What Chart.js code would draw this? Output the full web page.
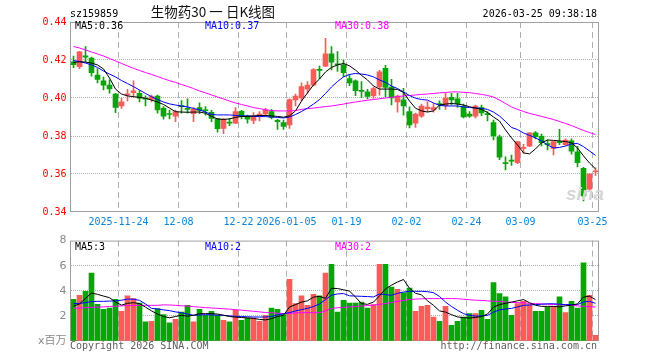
<!DOCTYPE html>
<html><head><meta charset="utf-8">
<script src="https://cdn.jsdelivr.net/npm/chart.js@4/dist/chart.umd.min.js"></script>
<style>
html,body{margin:0;padding:0;background:#fff;}
#wrap{position:relative;width:660px;height:360px;overflow:hidden;}
canvas{position:absolute;left:0;}
.t{position:absolute;white-space:pre;font-family:"DejaVu Sans Mono",monospace;font-size:10px;line-height:10px;}
</style></head><body>
<div id="wrap">
<canvas id="k" width="660" height="230" style="top:0;width:660px;height:230px"></canvas>
<canvas id="v" width="660" height="130" style="top:230px;width:660px;height:130px"></canvas>
<div class="t" style="left:70px;top:8.5px;color:#000">sz159859</div>
<div style="position:absolute;left:113px;width:200px;text-align:center;top:5px;font:13.5px/13.5px 'Noto Sans CJK SC',sans-serif;color:#111;white-space:pre">生物药30 一 日K线图</div>
<div class="t" style="right:63px;top:8.5px;color:#000">2026-03-25 09:38:18</div>
<div class="t" style="left:75px;top:20.5px;color:#000">MA5:0.36</div>
<div class="t" style="left:205px;top:20.5px;color:#0000ff">MA10:0.37</div>
<div class="t" style="left:335px;top:20.5px;color:#ff00ff">MA30:0.38</div>
<div class="t" style="left:75px;top:241.5px;color:#000">MA5:3</div>
<div class="t" style="left:205px;top:241.5px;color:#0000ff">MA10:2</div>
<div class="t" style="left:335px;top:241.5px;color:#ff00ff">MA30:2</div>
<div class="t" style="left:70px;top:340.5px;color:#606060">Copyright 2026 SINA.COM</div>
<div class="t" style="right:63px;top:340.5px;color:#606060">http://finance.sina.com.cn</div>
<div style="position:absolute;left:566px;top:184px;font:italic bold 19px/19px 'Liberation Sans',sans-serif;color:#d6d6d6;">sina</div>
</div>
<script>
const dates = ['2025-11-12','2025-11-13','2025-11-14','2025-11-17','2025-11-18','2025-11-19','2025-11-20','2025-11-21','2025-11-24','2025-11-25','2025-11-26','2025-11-27','2025-11-28','2025-12-01','2025-12-02','2025-12-03','2025-12-04','2025-12-05','2025-12-08','2025-12-09','2025-12-10','2025-12-11','2025-12-12','2025-12-15','2025-12-16','2025-12-17','2025-12-18','2025-12-19','2025-12-22','2025-12-23','2025-12-24','2025-12-25','2025-12-26','2025-12-29','2025-12-30','2025-12-31','2026-01-05','2026-01-06','2026-01-07','2026-01-08','2026-01-09','2026-01-12','2026-01-13','2026-01-14','2026-01-15','2026-01-16','2026-01-19','2026-01-20','2026-01-21','2026-01-22','2026-01-23','2026-01-26','2026-01-27','2026-01-28','2026-01-29','2026-01-30','2026-02-02','2026-02-03','2026-02-04','2026-02-05','2026-02-06','2026-02-09','2026-02-10','2026-02-11','2026-02-12','2026-02-13','2026-02-24','2026-02-25','2026-02-26','2026-02-27','2026-03-02','2026-03-03','2026-03-04','2026-03-05','2026-03-06','2026-03-09','2026-03-10','2026-03-11','2026-03-12','2026-03-13','2026-03-16','2026-03-17','2026-03-18','2026-03-19','2026-03-20','2026-03-23','2026-03-24','2026-03-25'];

const tickDates  = ['2025-11-24','2025-12-08','2025-12-22','2026-01-05','2026-01-19','2026-02-02','2026-02-24','2026-03-09','2026-03-25'];
const tickLabels = ['2025-11-24','12-08','12-22','2026-01-05','01-19','02-02','02-24','03-09','03-25'];

const opens = [.419,.4165,.4222,.421,.412,.409,.4068,.402,.3958,.4016, .4028,.4025,.400,.3993,.401,.3946,.3916,.3905,.3958,.3945, .3918,.395,.3937,.3925,.389,.384,.387,.3868,.393,.3905, .3882,.3902,.3916,.3928,.3882,.387,.3858,.399,.400,.4046, .4068,.4148,.4168,.4232,.418,.4175,.4102,.409,.4038,.4033, .4012,.4058,.4156,.4058,.398,.399,.3928,.3867,.3905,.3944, .3937,.397,.396,.4004,.3996,.3955,.3916,.3905,.395,.3918, .387,.3795,.3658,.3672,.366,.3735,.3747,.3817,.3798,.3758, .3735,.377,.3755,.3775,.3717,.363,.352,.3612];
const highs = [.422,.4245,.427,.4215,.4155,.411,.4095,.4025,.400,.4046, .409,.4039,.4012,.4015,.4015,.3955,.3937,.3937,.3986,.3995, .395,.3975,.3955,.3935,.3893,.3893,.3893,.395,.3935,.391, .3923,.3928,.3945,.394,.3888,.3884,.3995,.4021,.408,.4086, .4155,.4168,.4314,.427,.4244,.42,.4125,.4095,.4086,.4045, .4058,.4145,.4172,.4098,.4015,.4051,.3954,.392,.3968,.3981, .397,.3985,.4025,.4025,.4025,.3968,.3928,.3963,.3963,.3928, .3884,.3805,.369,.37,.3772,.3756,.3818,.3823,.381,.378, .3772,.3835,.3785,.3785,.3745,.3635,.3602,.3632];
const lows = [.416,.4155,.419,.4115,.408,.4042,.4025,.3923,.3945,.3985, .4005,.398,.3958,.398,.392,.3888,.389,.3875,.392,.392, .3875,.3917,.391,.3875,.382,.3812,.3855,.3865,.389,.3867, .3865,.388,.3905,.389,.3835,.3835,.384,.3958,.3986,.4025, .4063,.41,.4165,.4148,.414,.4112,.4065,.4012,.4002,.3995, .3998,.4015,.4007,.3963,.3925,.391,.3842,.3845,.3898,.3928, .3925,.394,.394,.3963,.395,.3895,.3898,.3895,.3907,.388, .3779,.3675,.3622,.3645,.3655,.371,.3744,.3785,.3748,.3727, .37,.3755,.375,.3705,.3637,.3458,.351,.3592];
const closes = [.4175,.4243,.4215,.4133,.4098,.4068,.4048,.395,.398,.4022, .4038,.3999,.3994,.4007,.3937,.3905,.3913,.3928,.3955,.394, .394,.3935,.3933,.3893,.3838,.3889,.3868,.3928,.3903,.3888, .3905,.3916,.3937,.3898,.3875,.385,.3992,.401,.406,.4068, .415,.4145,.4232,.4188,.4175,.4133,.408,.4038,.4035,.4008, .405,.4138,.4056,.400,.401,.3958,.3858,.3916,.3958,.3952, .395,.3965,.400,.399,.397,.39,.3904,.3958,.3922,.3912, .38,.3688,.3655,.3668,.377,.374,.3817,.3797,.3765,.3755, .377,.3765,.3779,.372,.366,.3485,.36,.3615];
const volumes = [3.32,3.64,3.96,5.42,2.92,2.53,2.63,3.32,2.37,3.59, 3.38,3.03,1.52,1.57,2.58,2.1,1.44,1.73,2.31,2.84, 1.52,2.53,2.05,2.37,2.05,1.65,1.52,2.45,1.65,1.83, 1.83,1.57,2.05,2.63,2.53,2.1,4.92,2.98,3.59,2.84, 3.72,3.59,5.42,6.11,2.31,3.24,3.03,3.03,3.11,2.63, 2.9,6.11,6.11,4.3,4.12,3.83,4.22,2.37,2.76,2.84, 1.91,1.57,2.76,1.25,1.57,1.91,2.18,2.18,2.45,1.73, 4.65,3.78,3.51,2.05,2.98,3.16,2.9,2.37,2.37,2.71, 2.76,3.51,2.26,3.16,2.63,6.22,3.64,0.45];

const ma5 = [.4187,.4191,.4189,.4184,.4174,.4153,.4105,.4047,.4021,.4011, .4007,.4003,.3999,.3989,.3979,.3966,.3947,.3928,.3926,.3925, .3926,.3926,.392,.3903,.389,.3887,.389,.3898,.3903,.3903, .3906,.3908,.3908,.3906,.3903,.3899,.3906,.3932,.3984,.4027, .4069,.41,.4137,.4161,.4174,.4182,.4169,.4147,.4119,.4095, .4063,.4047,.4047,.4047,.4045,.4029,.3984,.3946,.3932,.3926, .3932,.3963,.3968,.3971,.3968,.3963,.3954,.3947,.394,.3924, .39,.3879,.3832,.379,.3753,.3711,.3706,.3732,.3764,.3779, .3777,.3774,.3771,.3764,.3737,.3695,.3658,.3627];
const ma10 = [.4197,.4192,.4184,.4174,.4161,.4142,.4126,.4111,.4092,.4076, .406,.4042,.4024,.4007,.3992,.3979,.3969,.3963,.3958,.3953, .3945,.3937,.3926,.3913,.3911,.3911,.3911,.3908,.3906,.3906, .3903,.3902,.3902,.39,.3898,.3895,.39,.3913,.3929,.3947, .3968,.3992,.4024,.4058,.4087,.4111,.4124,.4129,.4126,.4121, .4111,.4095,.4082,.4063,.405,.4032,.4013,.3999,.3992,.3989, .3974,.3961,.3958,.3958,.3958,.3953,.395,.3947,.3946,.394, .3926,.3905,.3876,.3845,.3834,.3816,.3803,.379,.3774,.3753, .3737,.374,.3747,.3758,.3761,.3744,.3721,.3698];
const ma30 = [.4271,.4263,.4253,.4242,.4232,.4221,.4208,.4195,.4182,.4169, .4156,.4145,.4134,.4124,.4113,.4102,.4091,.4082,.4071,.4061, .405,.4037,.4027,.4016,.4005,.3995,.3984,.3974,.3966,.3958, .395,.3944,.3938,.3934,.3932,.3932,.3932,.3934,.394,.3944, .3947,.3951,.3955,.3958,.3963,.3968,.3974,.3979,.3984,.3988, .3992,.3996,.4,.4004,.4007,.4011,.4013,.4016,.4019,.4021, .4024,.4027,.4029,.4032,.4032,.403,.4028,.4024,.4019,.4013, .4005,.3989,.3971,.3953,.394,.3929,.3919,.3911,.3903,.3895, .3887,.3876,.3866,.3855,.3842,.3829,.3818,.3808];
const vma5 = [2.78,2.95,3.4,3.82,3.72,3.58,3.45,3.1,2.86,3.0, 3.05,2.98,2.7,2.4,2.15,1.95,1.85,1.95,2.05,1.98, 2.05,2.18,2.18,2.18,2.15,2.05,1.95,1.9,1.87,1.84, 1.8,1.72,1.68,1.78,1.95,2.05,2.71,2.9,3.1,3.2, 3.5,3.55,3.4,4.2,4.18,4.08,3.98,3.5,2.98,2.92, 3.1,3.6,4.15,4.45,4.7,4.9,4.2,3.8,3.68,3.2, 2.84,2.4,2.3,2.1,1.92,1.86,1.83,1.88,1.95,2.15, 2.7,2.9,3.0,3.1,3.2,3.3,3.05,2.85,2.76,2.76, 2.76,2.72,2.8,2.86,2.96,3.5,3.57,3.3];
const vma10 = [2.98,3.0,3.05,3.14,3.16,3.16,3.18,3.2,3.25,3.34, 3.33,3.24,2.95,2.6,2.55,2.48,2.42,2.32,2.25,2.15, 2.05,2.07,2.1,2.08,2.06,2.05,2.0,1.97,1.95,1.93, 1.91,1.91,1.91,1.95,2.08,2.18,2.26,2.4,2.5,2.6, 2.75,2.95,3.3,3.65,3.75,3.78,3.6,3.58,3.56,3.54, 3.51,3.75,3.7,3.64,3.8,3.9,3.96,3.96,3.96,3.93, 3.85,3.55,3.1,2.75,2.45,2.18,2.05,1.98,2.0,2.05, 2.3,2.48,2.55,2.6,2.72,2.84,2.87,2.9,2.93,2.96, 2.97,2.93,2.9,2.9,2.9,3.11,3.16,3.0];
const vma30 = [2.6,2.63,2.66,2.68,2.7,2.72,2.75,2.77,2.8,2.82, 2.84,2.84,2.84,2.84,2.84,2.88,2.87,2.84,2.81,2.78, 2.74,2.7,2.66,2.63,2.6,2.57,2.54,2.5,2.46,2.41, 2.37,2.32,2.27,2.24,2.21,2.19,2.2,2.24,2.26,2.26, 2.26,2.26,2.4,2.6,2.65,2.68,2.71,2.75,2.79,2.82, 2.86,2.92,2.98,3.07,3.16,3.24,3.31,3.34,3.36,3.38, 3.38,3.38,3.38,3.38,3.37,3.33,3.29,3.25,3.23,3.2, 3.17,3.14,3.11,3.08,3.06,3.03,3.0,2.98,2.96,2.93, 2.91,2.89,2.87,2.84,2.8,2.76,2.74,2.71];

const priceMin = 0.34, priceMax = 0.44, priceStep = 0.02;
const volMin = 0, volMax = 8, volStep = 2;

const RED = '#fd5a5a', GREEN = '#06a606';
const GRID = '#b0b0b0';
const MONO = '"DejaVu Sans Mono", monospace';
const tickIdx = tickDates.map(d => dates.indexOf(d));
const isUp = i => closes[i] >= opens[i];
const candleColor = ctx => (isUp(ctx.dataIndex) ? RED : GREEN);

const frame = {
  id: 'frame',
  beforeDatasetsDraw(chart) {
    const {ctx, chartArea: a} = chart;
    ctx.save();
    ctx.strokeStyle = '#a0a0a0';
    ctx.lineWidth = 1;
    ctx.strokeRect(a.left, a.top + 0.5, a.right - a.left, a.bottom - a.top - 1);
    ctx.restore();
  }
};

const lineDs = (data, color) => ({
  type: 'line', data, borderColor: color, borderWidth: 1, pointRadius: 0,
  fill: false, tension: 0, order: 0
});

const xScale = (showLabels) => ({
  offset: true,
  grid: {
    offset: true, drawTicks: false, lineWidth: 1,
    color: ctx => (tickIdx.includes(ctx.index) ? GRID : 'rgba(0,0,0,0)')
  },
  border: { display: false, dash: [6, 4] },
  ticks: showLabels ? {
    autoSkip: false, maxRotation: 0, minRotation: 0, padding: 4, labelOffset: -3,
    color: '#0a84d6', font: { family: MONO, size: 10 },
    callback: (v, i) => { const k = tickIdx.indexOf(i); return k >= 0 ? tickLabels[k] : ''; }
  } : { display: false },
  afterFit: s => { s.height = showLabels ? 18 : 0; }
});

const base = {
  responsive: false, animation: false, devicePixelRatio: 1,
  plugins: { legend: { display: false }, tooltip: { enabled: false } }
};

new Chart(document.getElementById('k'), {
  type: 'bar',
  plugins: [frame],
  data: {
    labels: dates,
    datasets: [
      lineDs(ma5, '#000000'),
      lineDs(ma10, '#0000ff'),
      lineDs(ma30, '#ff00ff'),
      { data: dates.map((d, i) => [Math.min(opens[i], closes[i]), Math.max(opens[i], closes[i])]),
        backgroundColor: candleColor, barThickness: 5, grouped: false, minBarLength: 1, order: 1 },
      { data: dates.map((d, i) => [lows[i], highs[i]]),
        backgroundColor: candleColor, barThickness: 1, grouped: false, order: 2 }
    ]
  },
  options: Object.assign({}, base, {
    layout: { padding: { left: 0, right: 61.5, top: 22, bottom: 0 } },
    scales: {
      x: xScale(true),
      y: {
        min: priceMin, max: priceMax,
        ticks: { stepSize: priceStep, color: '#ff0000', padding: 4, font: { family: MONO, size: 10 },
                 callback: v => Number(v).toFixed(2) },
        grid: { drawTicks: false,
                color: ctx => (ctx.tick && (Math.abs(ctx.tick.value - priceMin) < 1e-6 || Math.abs(ctx.tick.value - priceMax) < 1e-6)) ? 'rgba(0,0,0,0)' : GRID },
        border: { display: false, dash: [1, 1] },
        afterFit: s => { s.width = 70.5; }
      }
    }
  })
});

new Chart(document.getElementById('v'), {
  type: 'bar',
  plugins: [frame],
  data: {
    labels: dates,
    datasets: [
      lineDs(vma5, '#000000'),
      lineDs(vma10, '#0000ff'),
      lineDs(vma30, '#ff00ff'),
      { data: volumes, backgroundColor: candleColor, barThickness: 5, order: 1 }
    ]
  },
  options: Object.assign({}, base, {
    layout: { padding: { left: 0, right: 61.5, top: 10, bottom: 19 } },
    scales: {
      x: xScale(false),
      y: {
        min: volMin, max: volMax, z: 1,
        ticks: { stepSize: volStep, autoSkip: false, color: '#8a8a8a', padding: 4,
                 font: { family: '"DejaVu Sans","Noto Sans CJK SC",sans-serif', size: 11 },
                 callback: v => (v === 0 ? 'x百万' : String(v)) },
        grid: { drawTicks: false,
                color: ctx => (ctx.tick && (ctx.tick.value === volMin || ctx.tick.value === volMax)) ? 'rgba(0,0,0,0)' : GRID },
        border: { display: false, dash: [1, 1] },
        afterFit: s => { s.width = 70.5; }
      }
    }
  })
});
</script>
</body></html>
